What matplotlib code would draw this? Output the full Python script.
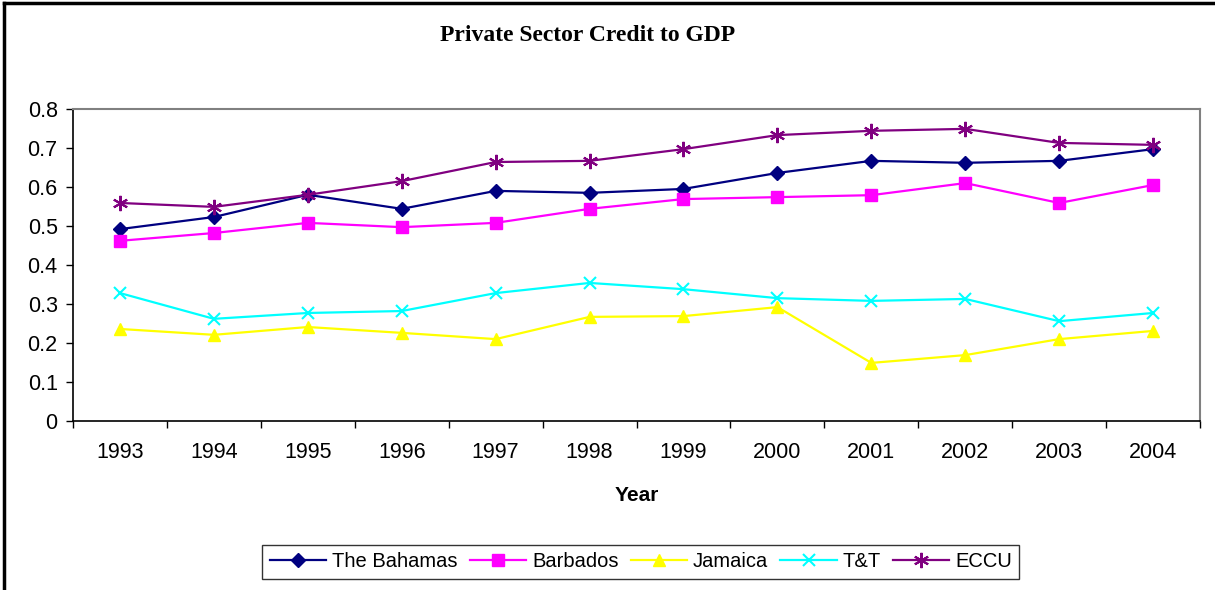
import matplotlib
matplotlib.use('Agg')
import matplotlib.pyplot as plt
from matplotlib.lines import Line2D
import numpy as np

years = ['1993', '1994', '1995', '1996', '1997', '1998', '1999', '2000', '2001', '2002', '2003', '2004']
bahamas = [0.492, 0.523, 0.580, 0.544, 0.590, 0.585, 0.595, 0.636, 0.667, 0.662, 0.667, 0.697]
barbados = [0.462, 0.482, 0.508, 0.497, 0.508, 0.544, 0.569, 0.574, 0.579, 0.610, 0.559, 0.605]
jamaica = [0.236, 0.221, 0.241, 0.226, 0.210, 0.267, 0.269, 0.292, 0.149, 0.169, 0.210, 0.231]
tt = [0.328, 0.262, 0.277, 0.282, 0.328, 0.354, 0.338, 0.315, 0.308, 0.313, 0.256, 0.277]
eccu = [0.559, 0.549, 0.580, 0.615, 0.664, 0.667, 0.697, 0.733, 0.744, 0.749, 0.713, 0.708]

plt.rcParams['font.family'] = ['Liberation Sans', 'DejaVu Sans']

fig = plt.figure(figsize=(12.15, 5.9), dpi=100)
ax = fig.add_axes([0.0601, 0.2864, 0.9276, 0.5289])

x = np.arange(len(years))
series = [
    ('The Bahamas', bahamas, '#000080', 'D', 7),
    ('Barbados', barbados, '#ff00ff', 's', 8),
    ('Jamaica', jamaica, '#ffff00', '^', 9),
    ('T&T', tt, '#00ffff', 'x', 9),
    ('ECCU', eccu, '#800080', (6, 2, 0), 11),
]
for name, vals, col, mk, ms in series:
    ax.plot(x, vals, color=col, lw=1.6, marker=mk, markersize=ms,
            markeredgewidth=1.5 if mk == 'x' or isinstance(mk, tuple) else 1.0,
            label=name)

ax.set_xlim(-0.5, len(years) - 0.5)
ax.set_ylim(0, 0.8)
ax.set_yticks(np.arange(0, 0.81, 0.1))
ax.set_yticklabels(['0', '0.1', '0.2', '0.3', '0.4', '0.5', '0.6', '0.7', '0.8'])
ax.set_xticks(x)
ax.set_xticklabels(years)
ax.set_xticks(np.arange(-0.5, len(years), 1), minor=True)
ax.tick_params(axis='x', which='major', length=0, pad=15, labelsize=15.5)
ax.tick_params(axis='x', which='minor', length=5, direction='out', width=1)
ax.tick_params(axis='y', length=5, direction='out', labelsize=15.5, width=1, pad=6)
ax.set_xlabel('Year', fontsize=15, fontweight='bold', labelpad=17)

for s in ('top', 'right'):
    ax.spines[s].set_color('#808080')
    ax.spines[s].set_linewidth(1.5)
for s in ('left', 'bottom'):
    ax.spines[s].set_color('black')
    ax.spines[s].set_linewidth(1.2)

fig.text(0.484, 0.94, 'Private Sector Credit to GDP', ha='center', va='center',
         fontsize=17, fontweight='bold', family=['Liberation Serif', 'DejaVu Serif'])

leg = fig.legend(loc='center', bbox_to_anchor=(0.5275, 0.0475), ncol=5, fontsize=14.5,
                 frameon=True, fancybox=False, edgecolor='black', handlelength=2.8,
                 handletextpad=0.3, columnspacing=0.6, borderpad=0.35)
leg.get_frame().set_linewidth(1.0)

# outer chart border: left and top only visible
fig.add_artist(Line2D([0.003, 0.003], [0, 0.995], transform=fig.transFigure, color='black', lw=2.5))
fig.add_artist(Line2D([0.003, 1.0], [0.995, 0.995], transform=fig.transFigure, color='black', lw=2.5))

fig.savefig('out.png', dpi=100)
